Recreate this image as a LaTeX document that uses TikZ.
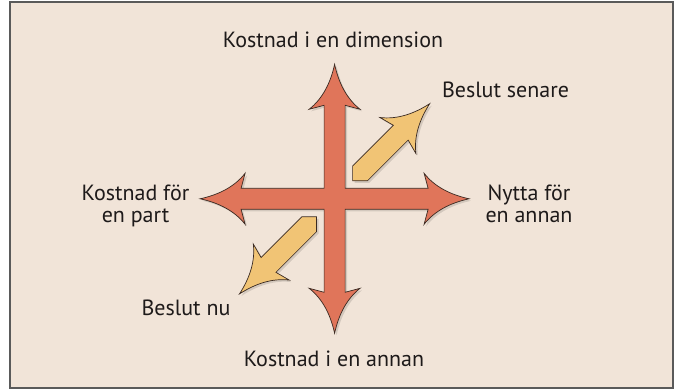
\documentclass[tikz,border=0pt]{standalone}
\usepackage{fontspec}
\setmainfont{PT Sans}
\definecolor{bgc}{HTML}{F1E4D8}
\definecolor{framec}{HTML}{5A5A5A}
\definecolor{redc}{HTML}{E0755A}
\definecolor{yelc}{HTML}{F1C475}
\definecolor{edgec}{HTML}{3A2A22}
\definecolor{txtc}{HTML}{1E1A1A}
\tikzset{
  crossshape/.style={fill=redc, draw=edgec, line width=0.7pt, line join=miter},
  diagshape/.style={fill=yelc, draw=edgec, line width=0.7pt, line join=miter},
  shadowshape/.style={fill=black, draw=none, opacity=0.12},
  lbl/.style={font=\fontsize{22}{22}\selectfont, text=txtc, inner sep=0pt, anchor=base, align=center}
}
\newcommand{\crosspath}{(0,134.5) .. controls (-4,116) and (-12,100) .. (-25.5,89.5) -- (-10.5,93.5) -- (-10.5,10.5) -- (-93.5,10.5) -- (-89.5,25.5) .. controls (-100,12) and (-116,4) .. (-134.5,0) .. controls (-116,-4) and (-100,-12) .. (-89.5,-25.5) -- (-93.5,-10.5) -- (-10.5,-10.5) -- (-10.5,-93.5) -- (-25.5,-89.5) .. controls (-12,-100) and (-4,-116) .. (0,-134.5) .. controls (4,-116) and (12,-100) .. (25.5,-89.5) -- (10.5,-93.5) -- (10.5,-10.5) -- (93.5,-10.5) -- (89.5,-25.5) .. controls (100,-12) and (116,-4) .. (134.5,0) .. controls (116,4) and (100,12) .. (89.5,25.5) -- (93.5,10.5) -- (10.5,10.5) -- (10.5,93.5) -- (25.5,89.5) .. controls (12,100) and (4,116) .. (0,134.5) -- cycle}
\newcommand{\diagpath}{(25.5,0) -- (36,10.5) -- (93.5,10.5) -- (89.5,25.5) .. controls (100,12) and (116,4) .. (134.5,0) .. controls (116,-4) and (100,-12) .. (89.5,-25.5) -- (93.5,-10.5) -- (36,-10.5) -- cycle}
\begin{document}
\begin{tikzpicture}[x=1pt,y=1pt]
\useasboundingbox (0,0) rectangle (674,390);
\draw[fill=bgc, draw=framec, line width=1.6pt] (10,388) rectangle (673,2);
\coordinate (C) at (334.6,191.2);
% shadows
\begin{scope}[shift={(C)}, xshift=2pt, yshift=-2pt]
  \fill[shadowshape] \crosspath;
  \begin{scope}[rotate=45]\fill[shadowshape] \diagpath;\end{scope}
  \begin{scope}[rotate=225]\fill[shadowshape] \diagpath;\end{scope}
\end{scope}
% shapes
\begin{scope}[shift={(C)}]
  \begin{scope}[rotate=45]\path[diagshape] \diagpath;\end{scope}
  \begin{scope}[rotate=225]\path[diagshape] \diagpath;\end{scope}
  \path[crossshape] \crosspath;
\end{scope}
% labels
\node[lbl] (top) at (333,342) {Kostnad i en dimension};
\node[lbl] (bottom) at (334,23.3) {Kostnad i en annan};
\node[lbl] (later) at (505.5,292.7) {Beslut senare};
\node[lbl] (now) at (186,74) {Beslut nu};
\node[lbl] (left) at (135.5,167) {Kostnad för\\en part};
\node[lbl] (right) at (529,167) {Nytta för\\en annan};
\end{tikzpicture}
\end{document}
